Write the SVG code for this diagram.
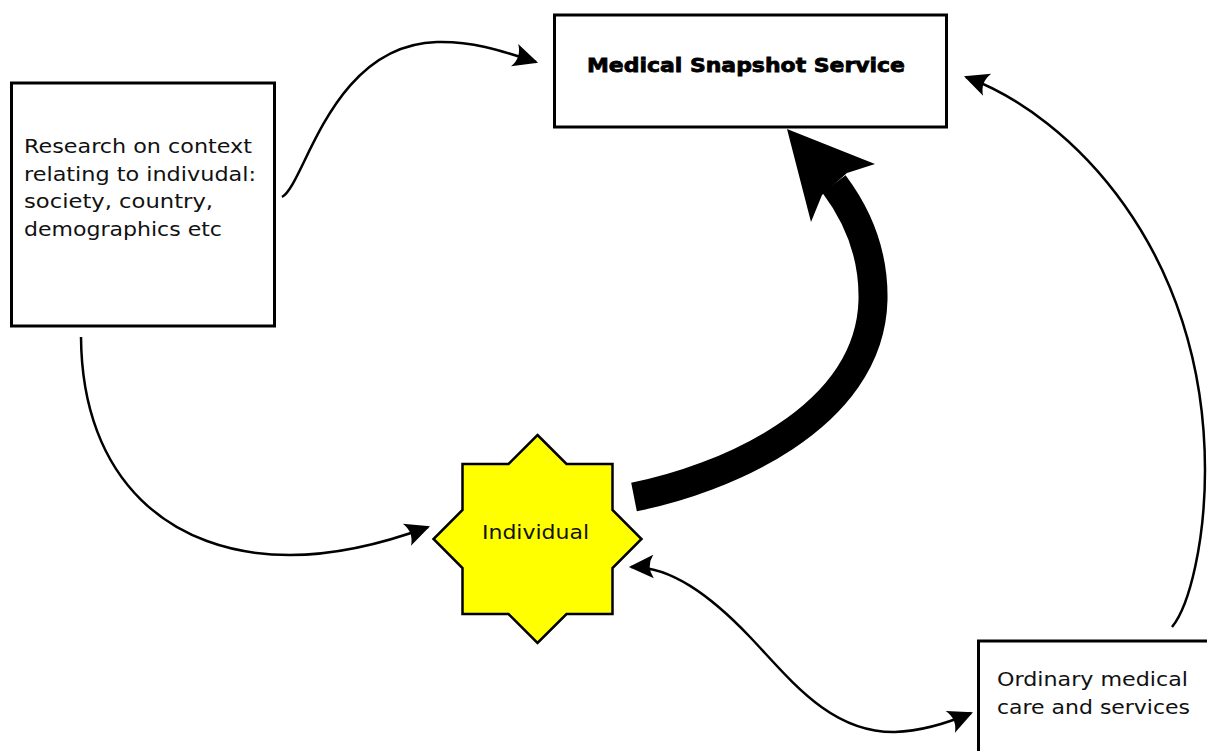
<svg xmlns="http://www.w3.org/2000/svg" width="1207" height="751" viewBox="0 0 1207 751">
<style>
.box{fill:#fff;stroke:#000;stroke-width:3}
.lbl{font-family:"DejaVu Sans",sans-serif;font-size:20px;fill:#111}
.bold{font-family:"DejaVu Sans",sans-serif;font-size:20px;font-weight:bold;fill:#000;stroke:#000;stroke-width:0.8}
.thin{fill:none;stroke:#000;stroke-width:2.5}
</style>
<defs>
<marker id="ah" markerUnits="userSpaceOnUse" markerWidth="30" markerHeight="30" viewBox="-24 -13 28 26" refX="0" refY="0" orient="auto-start-reverse" overflow="visible">
<path d="M 2,0 L -21,-11 Q -14,0 -21,11 Z" fill="#000"/>
</marker>
</defs>
<rect width="1207" height="751" fill="#fff"/>
<g id="connectors">
<path class="thin" d="M 282,197 C 305,185 330,45 437,42 C 475,41 505,52 536,62" marker-end="url(#ah)"/>
<path class="thin" d="M 81,337 C 82,480 170,555 290,555 C 340,555 390,541 428,527" marker-end="url(#ah)"/>
<path class="thin" d="M 1172,627 C 1190,605 1205,540 1205,470 C 1205,250 1070,115 966,77" marker-end="url(#ah)"/>
<path class="thin" d="M 631,567 C 670,566 710,595 750,637 C 790,679 830,733 895,732 C 925,731 950,722 971,713" marker-start="url(#ah)" marker-end="url(#ah)"/>
<path d="M 634,497 C 720,480 870,420 873,300 C 874,250 855,212 834,184" fill="none" stroke="#000" stroke-width="29"/>
<polygon points="787,129 875,164 847,173 822,195 811,222" fill="#000"/>
</g>
<g id="node-mss">
<rect class="box" x="554.5" y="15" width="392" height="112"/>
<text class="bold" x="587" y="72" textLength="318" lengthAdjust="spacingAndGlyphs">Medical Snapshot Service</text>
</g>
<g id="node-research">
<rect class="box" x="11.5" y="83" width="263" height="243"/>
<text class="lbl" x="24" y="153" textLength="228" lengthAdjust="spacingAndGlyphs">Research on context</text>
<text class="lbl" x="24" y="180.5" textLength="232" lengthAdjust="spacingAndGlyphs">relating to indivudal:</text>
<text class="lbl" x="24" y="208" textLength="189" lengthAdjust="spacingAndGlyphs">society, country,</text>
<text class="lbl" x="24" y="235.5" textLength="198" lengthAdjust="spacingAndGlyphs">demographics etc</text>
</g>
<g id="node-individual">
<polygon points="537.5,435 566.5,464 612.5,464 612.5,510 641.5,539 612.5,568 612.5,614 566.5,614 537.5,643 508.5,614 462.5,614 462.5,568 433.5,539 462.5,510 462.5,464 508.5,464" fill="#ffff00" stroke="#000" stroke-width="2.5"/>
<text class="lbl" x="482" y="539" textLength="107" lengthAdjust="spacingAndGlyphs">Individual</text>
</g>
<g id="node-ordinary">
<rect class="box" x="978.5" y="641" width="260" height="140"/>
<text class="lbl" x="997" y="686" textLength="191" lengthAdjust="spacingAndGlyphs">Ordinary medical</text>
<text class="lbl" x="997" y="714" textLength="193" lengthAdjust="spacingAndGlyphs">care and services</text>
</g>
</svg>
